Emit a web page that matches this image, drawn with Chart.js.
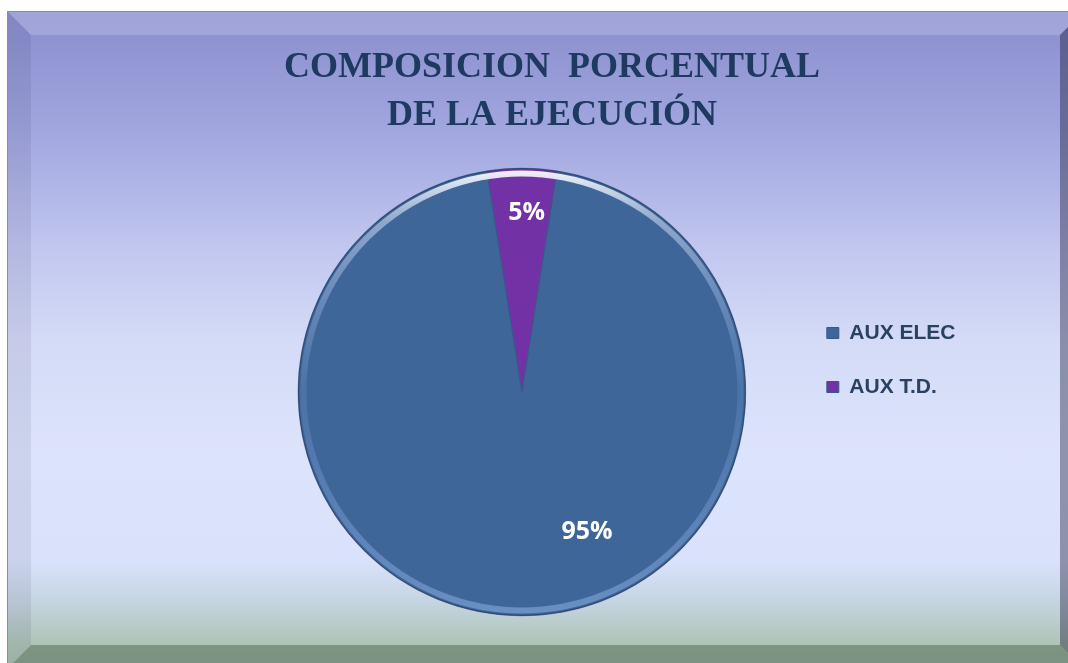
<!DOCTYPE html>
<html>
<head>
<meta charset="utf-8">
<script src="https://cdn.jsdelivr.net/npm/chart.js@4.4.1/dist/chart.umd.min.js"></script>
<style>
  body { margin: 0; width: 1068px; height: 663px; overflow: hidden; background: #fff; position: relative; }
  #line-top { position: absolute; left: 7px; top: 11px; width: 1070px; height: 1px; background: #8e8e8e; }
  #line-left { position: absolute; left: 7px; top: 11px; width: 1px; height: 660px; background: #8e8e8e; }
  #frame {
    position: absolute; left: 8px; top: 12px; width: 1075px; height: 656px;
    background: linear-gradient(to bottom,
      #8c91cf 0%, #8f94d1 4.3%, #a1a6df 18%, #c1c7ef 36%, #d4dbf7 50%,
      #dce3fb 67%, #dae2fb 83.5%, #c6d5e3 89.6%, #aec3b5 96.5%, #a8beb0 100%);
  }
  .bevel { position: absolute; left: 0; top: 0; width: 100%; height: 100%; }
  .b-top { background: rgba(255,255,255,0.17); clip-path: polygon(0 0, 100% 0, calc(100% - 23px) 23px, 23px 23px); }
  .b-left { background: rgba(0,0,40,0.07); clip-path: polygon(0 0, 23px 23px, 23px calc(100% - 23px), 0 100%); }
  .b-right { background: rgba(0,0,30,0.35); clip-path: polygon(100% 0, 100% 100%, calc(100% - 23px) calc(100% - 23px), calc(100% - 23px) 23px); }
  .b-bottom { background: rgba(0,25,0,0.27); clip-path: polygon(0 100%, 23px calc(100% - 23px), calc(100% - 23px) calc(100% - 23px), 100% 100%); }
  #pieChart { position: absolute; left: 0; top: 0; }
</style>
</head>
<body>
<div id="frame">
  <div class="bevel b-top"></div>
  <div class="bevel b-left"></div>
  <div class="bevel b-right"></div>
  <div class="bevel b-bottom"></div>
</div>
<div id="line-top"></div>
<div id="line-left"></div>
<canvas id="pieChart" width="1068" height="663"></canvas>
<script>
// chart data
const titleLines = ['COMPOSICION  PORCENTUAL', 'DE LA EJECUCIÓN'];
const categories = ['AUX ELEC', 'AUX T.D.'];
const values = [95, 5];

// look
const sliceColors = ['#3f6699', '#7231a4'];
const labelDist = [0.69, 0.8];      // label distance as part of radius
const labelShift = [-25, 1.5];      // degrees away from the slice middle

const total = values.reduce((a, b) => a + b, 0);

// soft bevel round the pie rim, then the percent labels
const pieDecor = {
  id: 'pieDecor',
  afterDatasetsDraw(chart) {
    const ctx = chart.ctx;
    const arcs = chart.getDatasetMeta(0).data;
    if (!arcs.length) return;
    const c = arcs[0].getProps(['x', 'y', 'outerRadius']);

    ctx.save();
    const g = ctx.createLinearGradient(0, c.y - c.outerRadius, 0, c.y + c.outerRadius);
    g.addColorStop(0, 'rgba(255,255,255,0.95)');
    g.addColorStop(0.12, 'rgba(220,232,255,0.5)');
    g.addColorStop(0.5, 'rgba(120,160,220,0.22)');
    g.addColorStop(1, 'rgba(150,185,235,0.5)');
    ctx.beginPath();
    ctx.arc(c.x, c.y, c.outerRadius - 5, 0, Math.PI * 2);
    ctx.lineWidth = 6;
    ctx.strokeStyle = g;
    ctx.stroke();
    ctx.beginPath();
    ctx.arc(c.x, c.y, c.outerRadius, 0, Math.PI * 2);
    ctx.lineWidth = 1.5;
    ctx.strokeStyle = 'rgba(40,60,100,0.55)';
    ctx.stroke();

    ctx.font = 'bold 25px "Open Sans"';
    ctx.fillStyle = '#ffffff';
    ctx.textAlign = 'center';
    ctx.textBaseline = 'middle';
    arcs.forEach((arc, i) => {
      const p = arc.getProps(['x', 'y', 'startAngle', 'endAngle', 'outerRadius']);
      const a = (p.startAngle + p.endAngle) / 2 + labelShift[i] * Math.PI / 180;
      const r = p.outerRadius * labelDist[i];
      const txt = Math.round(values[i] / total * 100) + '%';
      ctx.fillText(txt, p.x + Math.cos(a) * r, p.y + Math.sin(a) * r);
    });
    ctx.restore();
  }
};

const ctx = document.getElementById('pieChart').getContext('2d');
const pieChart = new Chart(ctx, {
  type: 'pie',
  data: {
    labels: categories,
    datasets: [{
      data: values,
      backgroundColor: sliceColors,
      borderColor: '#36598a',
      borderWidth: 1
    }]
  },
  options: {
    responsive: false,
    animation: false,
    rotation: 9,
    layout: { padding: { left: 138.5, right: 102.5, top: 20, bottom: 47 } },
    plugins: {
      title: {
        display: true,
        text: titleLines,
        color: '#1f3a60',
        font: { family: 'Liberation Serif', size: 36, weight: 'bold', lineHeight: 1.3333 },
        padding: { top: 24, bottom: 28 }
      },
      // empty spacer on the left so the pie sits left of the title centre
      subtitle: {
        display: true,
        text: '',
        position: 'left',
        fullSize: false,
        font: { size: 12 },
        padding: { top: 97.1, bottom: 0 }
      },
      legend: {
        position: 'right',
        fullSize: false,
        align: 'start',
        title: { display: true, text: '', padding: { top: 107.1, bottom: 0 }, font: { size: 12 } },
        labels: {
          boxWidth: 12,
          boxHeight: 11,
          padding: 33,
          color: '#2a4161',
          font: { family: 'Liberation Sans', size: 21, weight: 'bold' }
        }
      },
      tooltip: { enabled: false }
    }
  },
  plugins: [pieDecor]
});
</script>
</body>
</html>
